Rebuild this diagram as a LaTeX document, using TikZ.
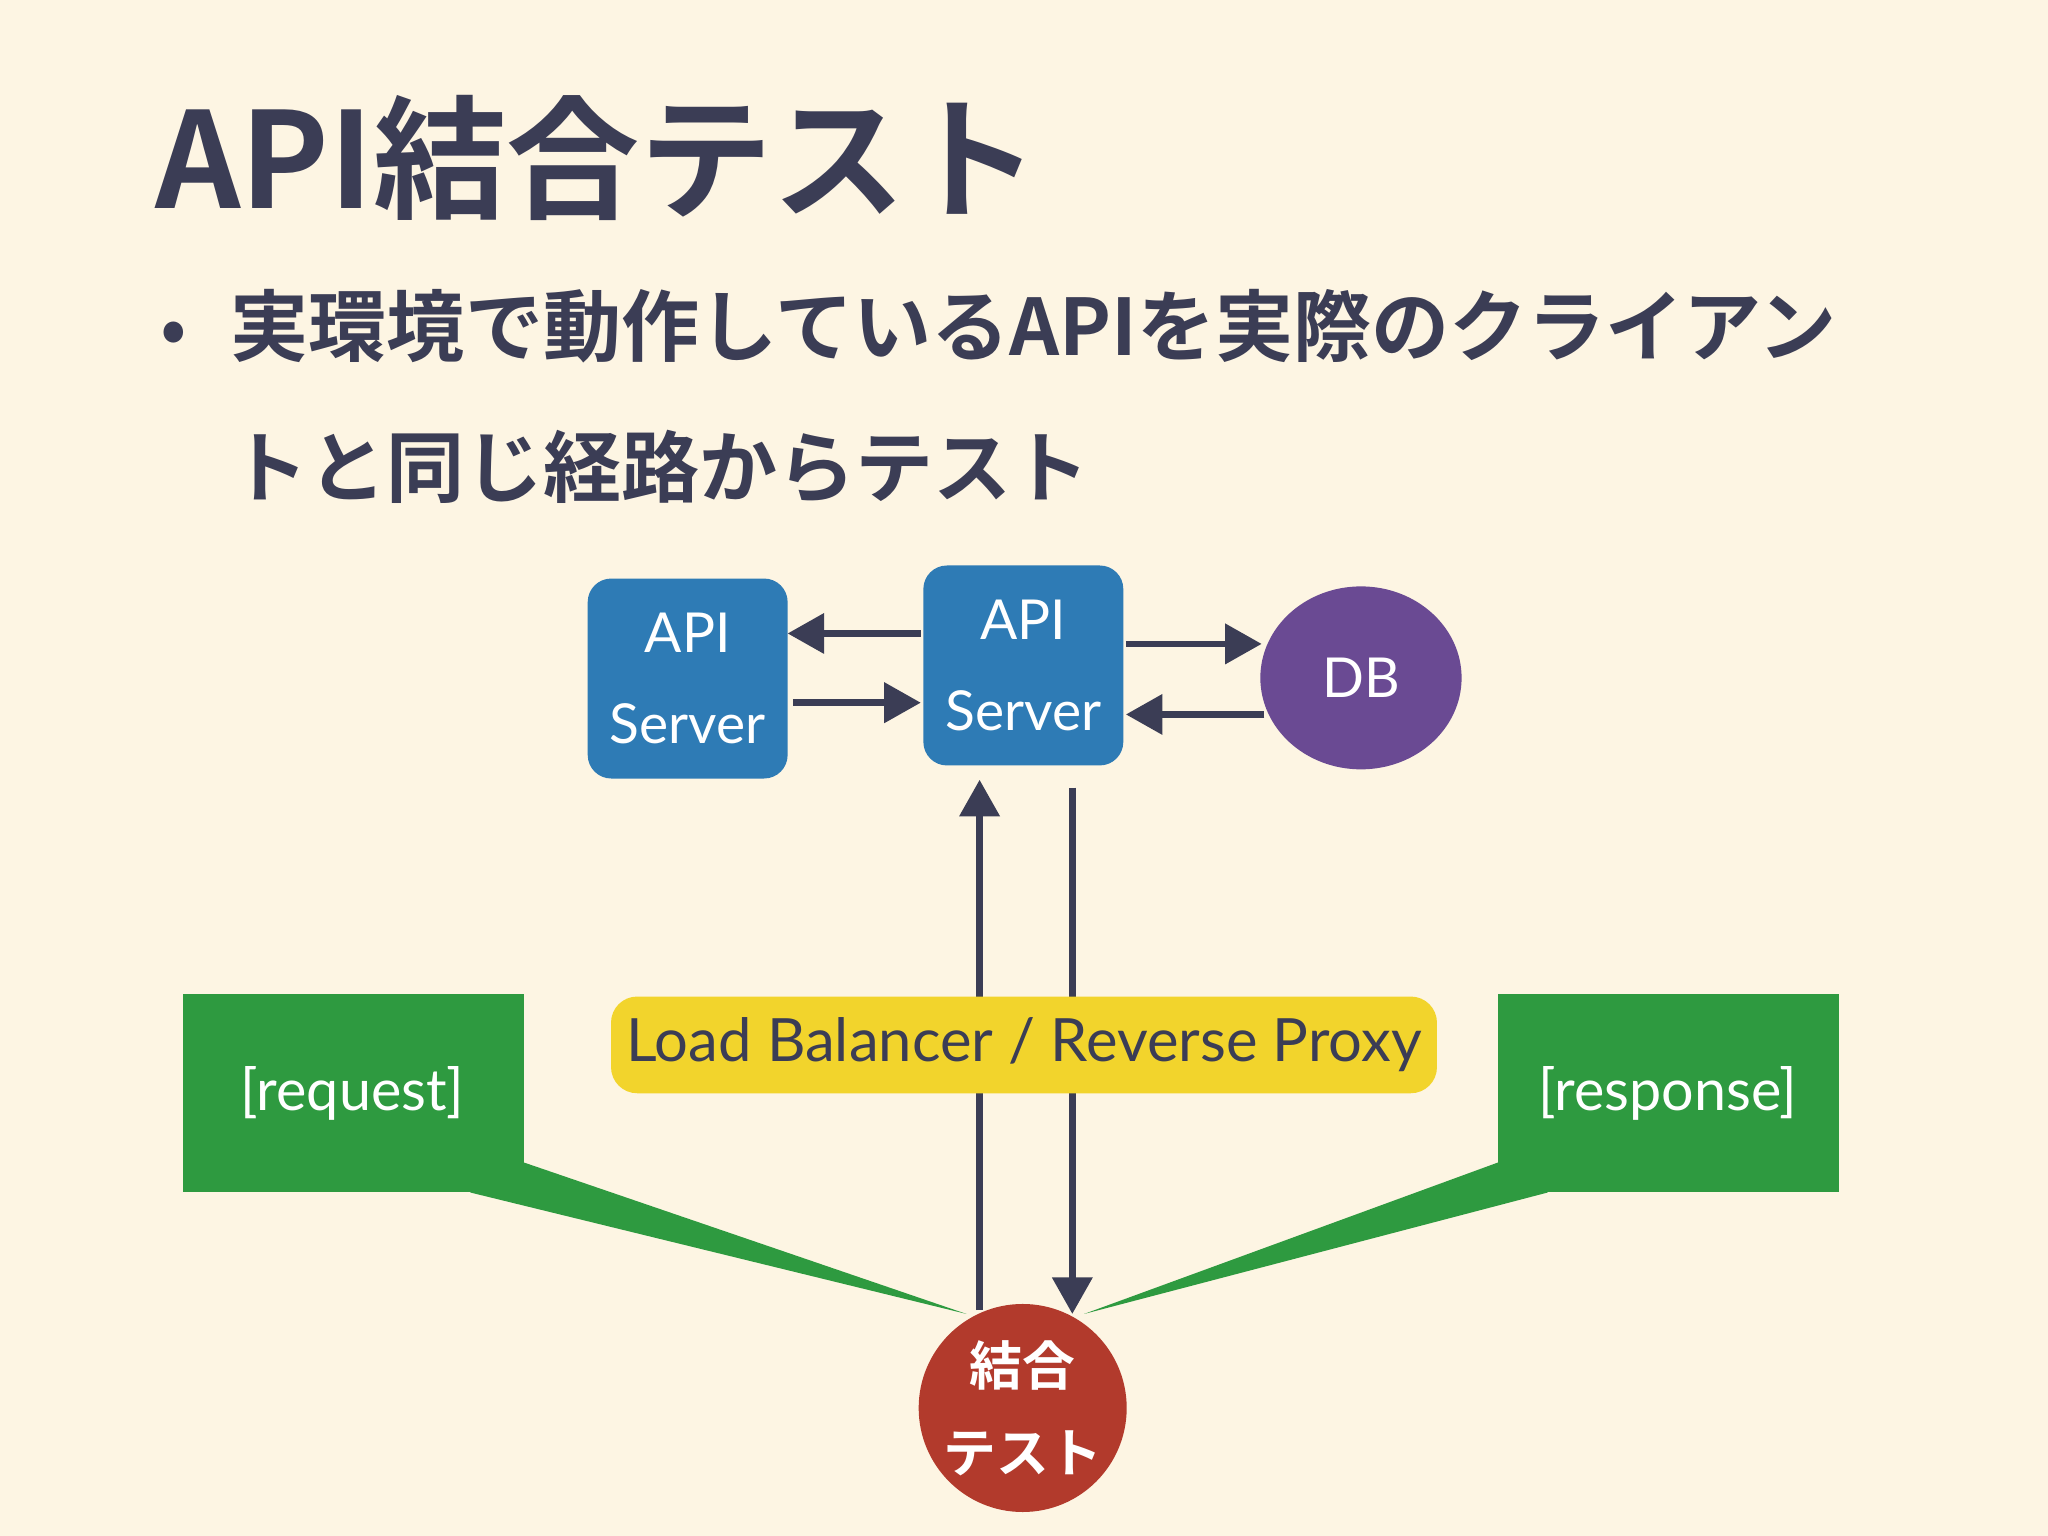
\documentclass[tikz,border=0pt]{standalone}
\usepackage{fontspec}
\setmainfont{Lato}
\newfontfamily\cjk{Noto Sans CJK JP}
\newfontfamily\cjkb{Noto Sans CJK JP Bold}
\usetikzlibrary{arrows.meta,shapes.geometric}
\definecolor{bg}{HTML}{FDF5E3}
\definecolor{ink}{HTML}{3B3D55}
\definecolor{sblue}{HTML}{2E7BB5}
\definecolor{dbp}{HTML}{6A4A93}
\definecolor{yel}{HTML}{F2D42C}
\definecolor{grn}{HTML}{2E9A40}
\definecolor{rd}{HTML}{B23A2C}
\tikzset{
  srv/.style={fill=sblue,rounded corners=0.18cm,minimum width=1.53cm,minimum height=1.53cm,text=white,align=center,font=\fontsize{12}{20}\selectfont,inner sep=0pt},
  arr/.style={draw=ink,line width=0.05cm,-{Triangle[length=0.28cm,width=0.3cm]}},
  callout/.style={fill=grn},
  lbl/.style={text=white,font=\fontsize{12.5}{15}\selectfont}
}
\begin{document}
\begin{tikzpicture}[x=0.01cm,y=-0.01cm]
\fill[bg] (0,0) rectangle (1568,1176);
\useasboundingbox (0,0) rectangle (1568,1176);
\node[anchor=base west,text=ink,inner sep=0pt] (title) at (118,160) {\cjkb\fontsize{29}{34}\selectfont API結合テスト};
\node[anchor=base west,text=ink,inner sep=0pt] (b) at (122,272) {\cjk\fontsize{17}{20}\selectfont •};
\node[anchor=base west,text=ink,inner sep=0pt] (l1) at (176,272) {\cjkb\fontsize{17}{20}\selectfont 実環境で動作しているAPIを実際のクライアン};
\node[anchor=base west,text=ink,inner sep=0pt] (l2) at (176,380) {\cjkb\fontsize{17}{20}\selectfont トと同じ経路からテスト};
% callouts
\fill[callout] (140,761) rectangle (401,913);
\fill[callout] (360,913) -- (401,890) -- (740,1006) -- cycle;
\node[lbl] (req) at (270,837) {[request]};
\fill[callout] (1147,761) rectangle (1408,913);
\fill[callout] (1147,890) -- (1185,913) -- (830,1006) -- cycle;
\node[lbl] (resp) at (1277,837) {[response]};
% servers
\node[srv] (s1) at (526.5,519.5) {API\\Server};
\node[srv] (s2) at (783.5,509.5) {API\\Server};
\node[ellipse,fill=dbp,minimum width=1.54cm,minimum height=1.4cm,text=white,font=\fontsize{12}{14}\selectfont] (db) at (1042,519) {DB};
\node[circle,fill=rd,minimum size=1.52cm,text=white,align=center,font=\cjkb\fontsize{11.5}{19}\selectfont,inner sep=0pt] (t) at (783,1078) {結合\\テスト};
\coordinate (a1) at (705,485); \coordinate (a2) at (603,485);
\coordinate (a3) at (607,538); \coordinate (a4) at (705,538);
\coordinate (a5) at (862,493); \coordinate (a6) at (966,493);
\coordinate (a7) at (968,547); \coordinate (a8) at (862,547);
\coordinate (u1) at (750,1003); \coordinate (u2) at (750,597);
\coordinate (d1) at (821,603); \coordinate (d2) at (821,1006);
\draw[arr] (a1) -- (a2);
\draw[arr] (a3) -- (a4);
\draw[arr] (a5) -- (a6);
\draw[arr] (a7) -- (a8);
\draw[arr] (u1) -- (u2);
\draw[arr] (d1) -- (d2);
\node[fill=yel,rounded corners=0.2cm,minimum width=6.32cm,minimum height=0.74cm,text=ink,font=\fontsize{13}{15}\selectfont] (lb) at (784,800) {Load Balancer / Reverse Proxy};
\end{tikzpicture}
\end{document}
